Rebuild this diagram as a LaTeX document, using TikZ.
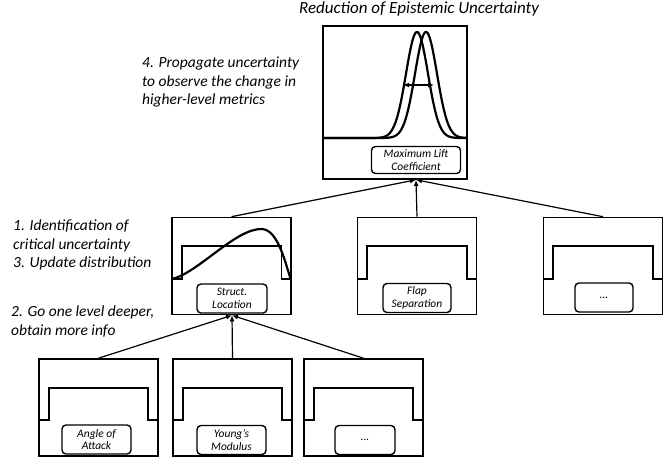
\documentclass[tikz,border=0pt]{standalone}
\usepackage{fontspec}
\setmainfont{Carlito}
\usetikzlibrary{arrows.meta,calc}
\tikzset{
 panel/.style={draw, line width=1.6pt, minimum width=119pt, minimum height=97pt, inner sep=0pt},
 lbl/.style={draw, line width=1.4pt, rounded corners=4pt, minimum height=29pt, inner sep=1pt, align=center, font=\itshape\fontsize{11.5}{12.5}\selectfont},
 note/.style={anchor=north west, align=left, inner sep=0pt, font=\itshape\fontsize{15.5}{18.5}\selectfont},
 conn/.style={line width=1.2pt, -{Latex[length=6pt,width=5pt]}},
 stepline/.style={line width=1.6pt},
 curveline/.style={line width=2.2pt, line join=round},
}
\newcommand\stepin[3]{%
 \draw[stepline] ($(#1.north west)+(0,62)$) -- ++(#2,0) |- ($(#1.north east)+(-#2,#3)$) -- ++(0,{62-#3}) -- ++(#2,0);}
\begin{document}
\begin{tikzpicture}[x=1pt,y=-1pt]
\useasboundingbox (0,0) rectangle (664,459);
% title
\node[font=\itshape\fontsize{17}{20}\selectfont, inner sep=0pt] (title) at (419,9) {Reduction of Epistemic Uncertainty};
% top panel
\node[panel, minimum width=144pt, minimum height=153pt] (top) at (395,102.5) {};
\draw[curveline] plot[domain=323.5:466.5, samples=200] (\x, {138-106*exp(-0.5*((\x-417)/11)^2)});
\draw[curveline] plot[domain=323.5:466.5, samples=200] (\x, {138-106*exp(-0.5*((\x-426)/11)^2)});
\draw[line width=1.5pt, {Latex[length=6pt,width=5pt]}-{Latex[length=6pt,width=5pt]}] (403,85) -- (434,85);
\node[lbl, minimum width=89pt, minimum height=27pt] (toplbl) at (416,160) {Maximum Lift\\Coefficient};
% middle panels
\node[panel] (m1) at (231.5,266) {};
\node[panel] (m2) at (417,266) {};
\node[panel] (m3) at (603,266) {};
\stepin{m1}{10.5}{29}
\stepin{m2}{10.5}{29}
\stepin{m3}{10.5}{29}
\draw[curveline] (172,279) .. controls (198,273) and (236,228) .. (262,229) .. controls (278,230) and (285,262) .. (291,280);
\node[lbl, minimum width=70pt] (m1lbl) at (232,298.5) {Struct.\\Location};
\node[lbl, minimum width=68pt] (m2lbl) at (417,298) {Flap\\Separation};
\node[lbl, minimum width=58pt] (m3lbl) at (604,297.5) {...};
% bottom panels
\node[panel] (b1) at (98.5,407.5) {};
\node[panel] (b2) at (232.5,407.5) {};
\node[panel] (b3) at (363.5,407.5) {};
\stepin{b1}{11}{30}
\stepin{b2}{11}{30}
\stepin{b3}{11}{30}
\node[lbl, minimum width=69pt] (b1lbl) at (96.5,439.5) {Angle of\\Attack};
\node[lbl, minimum width=69pt] (b2lbl) at (231.5,440) {Young's\\Modulus};
\node[lbl, minimum width=60pt] (b3lbl) at (365,440) {...};
% connectors
\coordinate (topin) at (toplbl |- top.south);
\coordinate (midin) at (m1lbl |- m1.south);
\draw[conn] (m1.north) -- (topin);
\draw[conn] (m2.north) -- (topin);
\draw[conn] (m3.north) -- (topin);
\draw[conn] (b1.north) -- (midin);
\draw[conn] (b2.north) -- (midin);
\draw[conn] (b3.north) -- (midin);
% notes
\node[note] (n4) at (142,57) {4. Propagate uncertainty\\to observe the change in\\higher-level metrics};
\node[note] (n1) at (13,220) {1. Identification of\\critical uncertainty\\3. Update distribution};
\node[note] (n2) at (11,306) {2. Go one level deeper,\\obtain more info};
\end{tikzpicture}
\end{document}
